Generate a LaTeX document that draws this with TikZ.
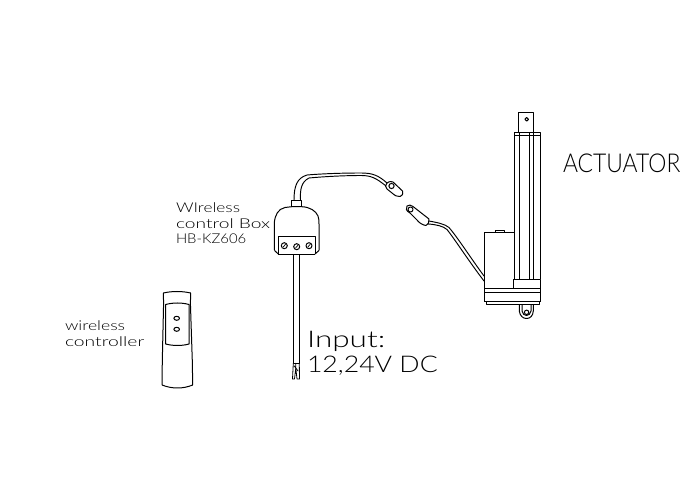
\documentclass[tikz,border=0pt]{standalone}
\usepackage{fontspec}
\setmainfont{Lato}[UprightFont=* Light]
\tikzset{
  part/.style={draw=black,line width=1pt,line join=round},
  wire/.style={draw=black,line width=0.95pt,line join=round,line cap=round},
  label/.style={anchor=west,inner sep=0pt,outer sep=0pt,text=black,transform shape},
  small/.style={label,font=\fontsize{13.5}{14}\selectfont},
  big/.style={label,font=\fontsize{23}{24}\selectfont},
}
\begin{document}
\begin{tikzpicture}[x=1pt,y=-1pt]
\useasboundingbox[fill=white] (0,0) rectangle (689,489);

% Actuator
\draw[part] (518.3,132.3) -- (518.3,112.3) -- (533.3,112.3) -- (533.3,132.3);
\draw[part] (526.7,119.3) circle (1.8);
\draw[part] (514.3,279.3) -- (514.3,132.3) -- (540.7,132.3) -- (540.7,279.3);
\draw[part] (514.3,136) -- (540.7,136);
\foreach \x in {519.3,529.3,533.3}{\draw[part] (\x,132.3) -- (\x,279.3);}
\draw[part] (513.3,288.3) -- (513.3,279.3) -- (540.7,279.3) -- (540.7,288.3);
\draw[part] (514.3,232.3) -- (484.3,232.3) -- (484.3,301.7);
\draw[part] (495.7,232.3) -- (495.7,230.7) -- (504.7,230.7) -- (504.7,232.3);
\draw[part] (484.3,288.3) -- (540.7,288.3);
\draw[part] (484.3,292.7) -- (540.7,292.7);
\draw[part] (540.7,288.3) -- (540.7,301.7);
\draw[part] (484.3,301.7) -- (540.7,301.7);
\draw[part] (486,301.7) -- (486,305) -- (539,305) -- (539,301.7);
\draw[part] (519.3,305) -- (519.3,311) .. controls (520,316) and (523,318.5) .. (526.5,318.5) .. controls (530,318.5) and (533,316) .. (533.3,311) -- (533.3,305);
\draw[part] (522,305) -- (522,311) .. controls (522.5,314) and (524.5,315.5) .. (526.5,315.5) .. controls (528.5,315.5) and (530.5,314) .. (531,311) -- (531,305);
\draw[part] (526.6,312.3) circle (2.2);

% Control box
\draw[part] (291.7,206.7) -- (291.7,200.3) -- (301.7,200.3) -- (301.7,206.7);
\draw[part] (274.5,250.5) -- (274.3,223) .. controls (275,215) and (278,209) .. (285,207.5) -- (291.7,206.7) -- (301.7,206.7) .. controls (310,207) and (316,211) .. (318,216) .. controls (319,219) and (319,221) .. (319,224) -- (319,250.5);
\draw[part] (274.5,250.5) -- (278.3,254) (319,250.5) -- (315,254);
\draw[part] (278.3,254.3) -- (278.3,236.7) -- (315,236.7) -- (315,254.3);
\draw[draw=black,line width=1.7pt] (278.3,254.4) -- (315,254.4);
\foreach \x/\y in {284.3/245.7,296.7/246.7,309/245.7}{
  \draw[part] (\x,\y) circle (3);
  \draw[part,line width=0.7pt] (\x-1.3,\y+1.5) -- (\x+1.3,\y-1.5);
}

% Cable to the socket
\draw[wire] (294,200.3) .. controls (294,186) and (297,178) .. (307,175) .. controls (325,173.5) and (345,173) .. (361,173) .. controls (372,173) and (378,175) .. (387,183);
\draw[wire] (300.5,200.3) .. controls (300,190) and (301,182) .. (309,178) .. controls (325,176.5) and (345,175.5) .. (361,175.5) .. controls (371,175.5) and (376,178) .. (386,186);
% Socket
\draw[part] (387,183) .. controls (390,181) and (391,181.5) .. (393,182) -- (402.5,191) .. controls (403.5,193) and (403,195) .. (400,196.5) .. controls (397,197) and (395,195.5) .. (392,193) -- (387,189) .. controls (385,187) and (385,185) .. (387,183);
\draw[part] (391.5,186) circle (2.6);

% Plug
\draw[part] (407,206) .. controls (409,204.5) and (411,205) .. (413,206.5) -- (429,219) .. controls (429.5,222) and (428,225) .. (426,225.5) .. controls (422,225) and (419,222.5) .. (417,220) -- (410,213) .. controls (406,211) and (405.5,208) .. (407,206);
\draw[part] (410.5,209.5) circle (2.5);
% Cable plug to motor
\draw[wire] (429,221) .. controls (437,222.5) and (445,224) .. (449,227.5) .. controls (458,238) and (470,257) .. (484,276);
\draw[wire] (428,224) .. controls (436,224.5) and (443,226) .. (447,229.5) .. controls (456,241) and (468,260) .. (484,281);

% Supply cable
\draw[part] (293.3,254.5) -- (293.3,363.3) -- (299.3,363.3) -- (299.3,254.5);
\draw[wire,line width=0.8pt] (293.3,363.3) -- (292.5,379) -- (294.5,379) -- (295.8,368) -- (297,379) -- (299.5,379) -- (299.3,363.3);
\draw[wire,line width=0.8pt] (295.8,363.3) -- (295.8,368) (294.3,366) -- (298,371);

% Wireless controller
\draw[part] (163.3,293) .. controls (172,291) and (182,291) .. (190.7,293);
\draw[part] (163.3,293) -- (163.6,303) -- (162.3,361) -- (162,385);
\draw[part] (190.7,293) -- (190.4,303) -- (192.3,361) -- (192.7,385);
\draw[part] (162,385) .. controls (172,389) and (183,389) .. (192.7,385);
\draw[part] (165.7,304.5) .. controls (173,302.5) and (182,302.5) .. (189,304.5) -- (189,344) .. controls (182,346) and (173,346) .. (165.7,344) -- cycle;
\draw[part] (176.7,318.3) ellipse (2.8 and 2);
\draw[part] (176.7,329.3) ellipse (2.8 and 2);

% Labels
\node[label,font=\fontsize{26}{26}\selectfont,xscale=0.88] (actuator) at (563,163) {ACTUATOR};
\node[small,xscale=1.28] (boxa) at (176,208) {WIreless};
\node[small,xscale=1.42] (boxb) at (176,223.5) {control Box};
\node[small,xscale=1.1] (boxc) at (176,239) {HB-KZ606};
\node[small,xscale=1.3] (ctla) at (65,326) {wireless};
\node[small,xscale=1.43] (ctlb) at (65,342) {controller};
\node[big,xscale=1.37] (inp) at (307,341) {Input:};
\node[big,xscale=1.16] (volt) at (307,366) {12,24V DC};
\end{tikzpicture}
\end{document}
